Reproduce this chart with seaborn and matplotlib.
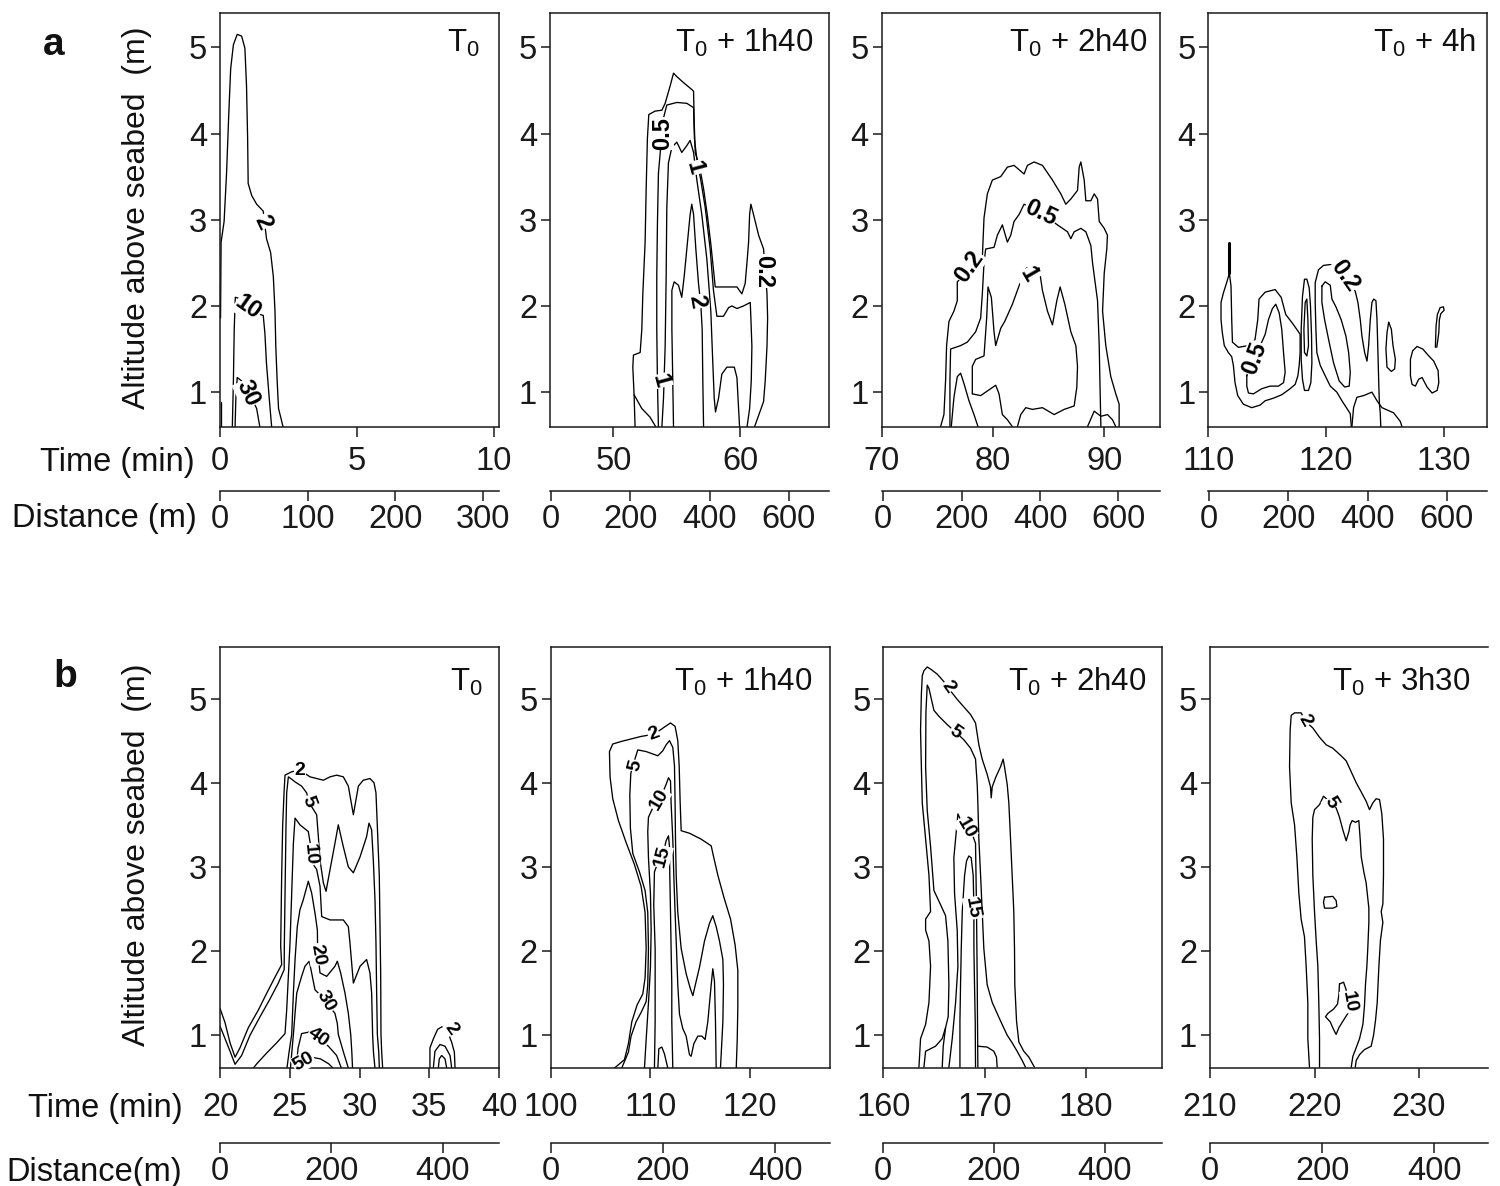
import matplotlib
matplotlib.use("Agg")
import matplotlib.pyplot as plt
import seaborn as sns
import pandas as pd

# ============ DATA: iso-concentration lines, (time [min], altitude [m]) ============
# ---- row a, panel 1 (T0) ----
A1_C2 = [(0.02,1.86),(0.04,2.74),(0.15,2.98),(0.24,3.54),(0.32,4.22),(0.39,4.75),(0.49,5.03),(0.63,5.15),
         (0.79,5.13),(0.91,4.99),(0.97,4.55),(1.01,3.94),(1.03,3.42),(1.16,3.28),(1.34,3.18),(1.58,3.10),
         (1.70,2.78),(1.85,2.62),(1.95,2.34),(2.01,1.94),(2.04,1.53),(2.09,1.13),(2.14,0.81),(2.25,0.67),(2.31,0.59)]
A1_EDGE = [(0.02,0.59),(0.02,0.89)]
A1_C10 = [(0.45,0.59),(0.49,1.13),(0.52,1.73),(0.56,2.10),(0.67,2.09),(0.97,2.0),(1.28,1.92),(1.58,1.89),
          (1.64,1.69),(1.70,1.33),(1.80,0.93),(1.89,0.59)]
A1_C30 = [(0.55,0.59),(0.58,0.93),(0.63,1.17),(0.79,1.13),(1.16,0.93),(1.34,0.81),(1.46,0.59)]
A1_LABELS = [("2",1.55,2.97,-65),("10",1.03,1.98,-35),("30",1.03,0.99,-65)]

# ---- row a, panel 2 (T0 + 1h40) ----
A2_C02 = [(51.71,0.59),(51.63,0.97),(51.53,1.29),(51.58,1.43),(52.11,1.46),(52.24,1.73),(52.32,2.14),(52.50,2.74),
          (52.58,3.34),(52.68,3.94),(52.79,4.22),(53.29,4.26),(53.82,4.27),(54.08,4.35),(54.47,4.55),(54.74,4.70),
          (55.00,4.66),(55.53,4.59),(56.18,4.51),(56.32,4.49),(56.37,4.14),(56.45,3.78),(56.79,3.62),(57.11,3.36),
          (57.42,3.04),(57.68,2.72),(57.89,2.42),(58.03,2.22),(59.21,2.22),(59.74,2.22),(60.13,2.14),(60.39,2.26),
          (60.53,2.50),(60.66,2.74),(60.74,3.06),(60.84,3.18),(61.05,3.06),(61.45,2.82),(61.84,2.66),(62.11,2.14),
          (62.16,1.86),(62.11,1.53),(61.97,1.13),(61.84,0.89),(61.45,0.73),(61.11,0.59)]
A2_E = [(51.63,0.97),(52.24,0.81),(52.89,0.71),(53.37,0.59)]
A2_C05 = [(53.55,0.59),(53.47,1.13),(53.42,1.73),(53.42,2.34),(53.47,2.94),(53.55,3.54),(53.74,3.86),(53.95,4.18),
          (54.21,4.33),(55.00,4.36),(55.79,4.35),(56.32,4.30),(56.39,3.94),(56.58,3.70),(56.89,3.46),(57.24,3.14),
          (57.63,2.66),(57.89,2.18),(58.16,1.88),(58.68,1.88),(59.08,1.98),(59.34,2.00),(59.74,1.97),(60.26,2.00),
          (60.79,2.04),(60.84,1.86),(60.92,1.53),(60.87,1.13),(60.74,0.81),(60.53,0.59)]
A2_C1 = [(53.82,0.59),(53.95,0.93),(54.08,1.53),(54.16,2.34),(54.21,3.14),(54.34,3.66),(54.61,3.84),(55.00,3.90),
         (55.39,3.78),(55.79,3.86),(56.05,3.92),(56.32,3.78),(56.58,3.46),(56.97,3.06),(57.37,2.54),(57.68,1.94),
         (57.84,1.33),(57.95,0.93),(58.05,0.77),(58.29,0.93),(58.55,1.21),(58.95,1.29),(59.53,1.29),(59.74,1.17),
         (59.87,0.81),(59.95,0.59)]
A2_C2 = [(54.74,0.59),(54.68,1.13),(54.61,1.73),(54.61,2.18),(54.79,2.28),(55.13,2.24),(55.39,2.10),(55.58,2.34),
         (55.84,2.74),(56.05,3.06),(56.18,3.18),(56.32,3.06),(56.50,2.66),(56.71,2.26),(56.89,2.02),(57.00,1.73),
         (57.05,1.13),(57.11,0.59)]
A2_LABELS = [("0.5",53.85,4.0,90),("1",56.4,3.6,-75),("2",56.6,2.05,-80),("1",53.7,1.13,-75),("0.2",61.84,2.40,-90)]

# ---- row a, panel 3 (T0 + 2h40) ----
A3_C02 = [(75.29,0.60),(75.59,0.74),(75.74,1.14),(75.83,1.54),(76.04,1.82),(76.49,1.94),(76.79,2.06),(76.79,2.28),
          (79.04,2.56),(79.19,3.02),(79.49,3.30),(79.94,3.46),(80.69,3.50),(81.29,3.61),(81.89,3.63),(82.79,3.53),
          (83.09,3.63),(83.69,3.67),(84.44,3.63),(85.34,3.46),(86.09,3.30),(86.54,3.18),(86.99,3.24),(87.59,3.34),
          (87.74,3.61),(87.89,3.67),(88.19,3.46),(88.34,3.22),(88.79,3.22),(89.09,3.30),(89.39,3.24),(89.54,2.98),
          (89.99,2.90),(90.28,2.82),(90.22,2.66),(89.99,2.38),(89.84,1.94),(90.13,1.54),(90.58,1.18),(91.03,0.98),
          (91.33,0.86),(91.33,0.60)]
A3_C05 = [(76.13,0.60),(76.13,1.14),(76.19,1.50),(77.09,1.54),(77.69,1.58),(78.44,1.70),(78.89,1.86),(79.04,2.14),
          (79.19,2.50),(79.34,2.66),(80.09,2.68),(80.39,2.82),(80.84,2.94),(81.29,2.74),(81.59,2.82),(81.89,2.98),
          (82.34,3.06),(82.79,3.18),(84.29,3.08),(85.79,2.94),(86.69,2.86),(86.99,2.78),(87.29,2.86),(87.89,2.90),
          (88.34,2.86),(88.79,2.70),(88.94,2.50),(89.39,2.06),(89.54,1.54),(89.60,1.14),(89.69,0.60)]
A3_BUMP = [(76.25,0.60),(76.49,0.94),(76.79,1.18),(77.09,1.22),(77.39,1.10),(77.84,0.90),(78.29,0.74),(78.65,0.60)]
A3_C1 = [(78.14,0.98),(78.14,1.30),(78.44,1.38),(79.19,1.42),(79.43,1.86),(79.55,2.22),(79.85,2.10),(80.09,1.70),
         (80.24,1.54),(80.69,1.74),(81.05,1.82),(81.74,2.02),(82.19,2.18),(82.64,2.34),(83.00,2.44),(84.14,2.44),
         (84.44,2.18),(84.89,1.94),(85.34,1.78),(85.73,2.06),(86.03,2.22),(86.45,2.02),(86.99,1.70),(87.44,1.54),
         (87.59,1.30),(87.53,1.06),(87.29,0.84),(86.39,0.80),(85.49,0.74),(84.44,0.82),(83.54,0.80),(82.94,0.82),
         (82.49,0.74),(82.19,0.60)]
A3_C1B = [(78.14,0.98),(78.89,0.96),(80.24,1.08),(80.54,0.98),(80.84,0.74),(81.29,0.68),(81.74,0.60)]
A3_BR = [(88.49,0.60),(89.09,0.78),(89.69,0.72),(90.28,0.74),(90.73,0.68),(91.03,0.60)]
A3_LABELS = [("0.2",77.84,2.46,55),("0.5",84.3,3.08,-25),("1",83.2,2.36,-60)]

# ---- row a, panel 4 (T0 + 4h) ----
A4_SPIKE = [(111.79,2.73),(111.79,2.38)]
A4_L1 = [(111.79,2.73),(111.79,2.38),(111.56,2.27),(111.28,2.15),(111.08,2.04),(111.08,1.84),(111.19,1.69),
         (111.36,1.54),(111.70,1.46),(111.99,1.41),(112.13,1.31),(112.27,1.11),(112.50,0.96),(112.98,0.86),
         (113.69,0.82),(114.40,0.85),(114.83,0.90),(115.53,0.93),(116.24,0.97),(116.95,1.04),(117.38,1.09),
         (117.61,1.19),(117.72,1.31),(117.80,1.46),(117.80,1.67),(117.61,1.71),(117.09,1.81),(116.58,1.90),
         (116.19,2.10),(115.68,2.19),(114.83,2.16),(114.31,2.08),(114.20,1.84),(113.97,1.61),(113.41,1.54),
         (112.56,1.52),(112.05,1.58),(111.99,1.84),(111.93,2.23),(111.79,2.38)]
A4_L2 = [(113.27,1.19),(113.55,1.34),(114.12,1.48),(114.54,1.58),(114.83,1.67),(115.11,1.84),(115.45,1.97),
         (115.73,2.02),(116.02,1.92),(116.24,1.73),(116.39,1.46),(116.53,1.23),(116.39,1.11),(115.96,1.07),
         (115.25,1.07),(114.54,1.04),(113.83,0.98),(113.41,0.99),(113.27,1.07),(113.27,1.19)]
A4_N1 = [(118.00,1.15),(117.89,1.38),(117.89,1.73),(118.00,2.11),(118.17,2.31),(118.37,2.31),(118.57,2.21),
         (118.68,2.00),(118.77,1.65),(118.80,1.34),(118.71,1.11),(118.51,1.02),(118.17,1.02),(118.00,1.15)]
A4_N2 = [(118.17,1.46),(118.12,1.73),(118.23,2.04),(118.37,2.08),(118.46,1.84),(118.51,1.54),(118.37,1.42),(118.17,1.46)]
A4_S1 = [(122.15,0.60),(122.06,0.75),(121.78,0.81),(121.35,0.90),(120.92,1.00),(120.36,1.07),(119.93,1.19),
         (119.51,1.31),(119.22,1.46),(119.14,1.73),(119.08,2.04),(119.08,2.27),(119.36,2.42),(119.79,2.47),
         (120.36,2.48),(120.64,2.46),(121.63,2.33),(122.48,2.17),(122.71,2.04),(122.91,1.84),(123.05,1.65),
         (123.28,1.46),(123.48,1.36),(123.62,1.54),(123.76,1.84),(123.90,2.04),(124.05,2.08),(124.24,2.06),
         (124.33,1.84),(124.41,1.46),(124.47,1.15),(124.53,0.88),(124.61,0.75),(124.65,0.60)]
A4_S2 = [(119.65,2.23),(119.93,2.28),(120.36,2.24),(120.50,2.08),(120.84,1.99),(121.29,1.84),(121.69,1.65),
         (121.92,1.46),(122.06,1.23),(121.97,1.07),(121.58,1.06),(121.12,1.13),(120.64,1.34),(120.22,1.61),
         (119.88,1.84),(119.65,2.04),(119.65,2.23)]
A4_R1 = [(125.32,1.81),(125.55,1.73),(125.69,1.54),(125.89,1.38),(125.83,1.27),(125.55,1.24),(125.18,1.29),
         (125.09,1.50),(125.18,1.69),(125.32,1.81)]
A4_R2 = [(127.17,1.19),(127.17,1.38),(127.36,1.48),(127.73,1.53),(128.22,1.50),(128.73,1.42),(129.15,1.36),
         (129.52,1.25),(129.58,1.11),(129.44,1.02),(129.01,0.99),(128.58,1.06),(128.16,1.17),(127.87,1.15),
         (127.59,1.07),(127.31,1.09),(127.17,1.19)]
A4_R3 = [(129.29,1.52),(129.35,1.77),(129.46,1.90),(129.69,1.98),(129.97,1.99),(130.03,1.95),(129.75,1.91),
         (129.63,1.84),(129.58,1.69),(129.41,1.52)]
A4_B1 = [(122.20,0.60),(122.34,0.82),(122.62,0.94),(123.19,0.96),(123.90,1.00),(124.33,0.90),(124.75,0.82),
         (125.74,0.76),(126.31,0.66),(126.45,0.60)]
A4_LABELS = [("0.5",113.92,1.39,70),("0.2",121.63,2.35,-55)]

# ---- row b, panel 1 (T0) ----
B1_C2 = [(20.0,1.32),(20.36,1.15),(20.72,0.91),(21.08,0.74),(21.43,0.85),(22.03,1.09),(22.75,1.30),(23.35,1.50),
         (23.94,1.69),(24.42,1.84),(24.35,2.06),(24.37,2.29),(24.42,2.89),(24.49,3.48),(24.59,3.88),(24.66,4.09),
         (25.14,4.13),(25.73,4.15),(26.45,4.07),(27.41,4.03),(27.89,4.07),(28.36,4.09),(28.84,4.07),(29.20,3.96),
         (29.56,3.62),(29.92,3.96),(30.27,4.03),(30.75,4.05),(31.04,4.00),(31.18,3.88),(31.28,3.48),(31.42,2.89),
         (31.47,2.29),(31.52,1.70),(31.54,1.01),(31.59,0.80),(31.66,0.61)]
B1_C5 = [(20.0,1.11),(20.72,0.81),(21.08,0.655),(21.55,0.76),(22.15,1.0),(22.87,1.22),(23.58,1.43),(24.18,1.62),
         (24.60,1.78),(24.61,2.05),(24.68,2.89),(24.73,3.48),(24.78,3.88),(24.90,4.07),(25.07,4.05),(25.38,4.01),
         (25.85,3.96),(26.21,3.88),(26.40,3.76),(26.93,3.62),(27.05,3.36),(27.17,3.08),(27.41,2.81),(27.60,2.71),
         (27.89,2.97),(28.24,3.28),(28.48,3.50),(28.84,3.24),(29.20,3.0),(29.56,2.93),(30.04,3.12),(30.51,3.36),
         (30.68,3.52),(30.87,3.44),(30.99,3.08),(31.11,2.61),(31.18,2.10),(31.23,1.50),(31.28,1.01),(31.38,0.80),
         (31.42,0.61)]
B1_C10 = [(22.39,0.61),(22.63,0.66),(23.35,0.79),(24.06,0.91),(24.66,1.02),(24.78,1.30),(24.90,1.70),(25.02,2.10),
          (25.14,2.69),(25.26,3.28),(25.38,3.58),(25.73,3.50),(26.33,3.42),(26.50,3.25),(26.60,3.05),(26.93,2.97),
          (27.17,2.77),(27.29,2.41),(27.89,2.37),(28.84,2.37),(29.20,2.29),(29.32,2.09),(29.56,1.62),(30.04,1.82),
          (30.51,1.90),(30.75,1.74),(30.87,1.50),(30.94,1.01),(31.00,0.80),(31.11,0.61)]
B1_C20 = [(24.8,0.61),(24.95,0.80),(25.14,1.01),(25.26,1.50),(25.38,1.90),(25.54,2.29),(25.73,2.49),(25.97,2.61),
          (26.33,2.83),(26.57,2.69),(26.81,2.45),(26.98,2.25),(27.0,2.0),(27.17,1.74),(27.65,1.70),(28.24,1.82),
          (28.41,1.88),(28.65,1.74),(28.96,1.50),(29.20,1.26),(29.37,1.01),(29.45,0.80),(29.5,0.61)]
B1_C30 = [(25.05,0.61),(25.15,0.80),(25.26,1.01),(25.38,1.26),(25.50,1.50),(25.85,1.70),(26.09,1.82),(26.40,1.88),
          (26.57,1.74),(26.81,1.54),(27.05,1.50),(27.60,1.40),(28.24,1.26),(28.41,1.14),(28.48,1.01),(28.85,0.80),
          (29.2,0.61)]
B1_C40 = [(25.45,0.61),(25.6,0.85),(25.85,1.02),(26.45,1.04),(27.05,0.97),(27.77,0.87),(28.36,0.76),(28.7,0.61)]
B1_C50 = [(25.7,0.61),(25.95,0.70),(26.5,0.74),(27.2,0.72),(27.8,0.66),(28.1,0.61)]
B1_P2A = [(35.05,0.61),(35.05,0.85),(35.3,0.96),(35.6,1.07),(35.9,1.10),(36.3,1.05),(36.6,0.92),(36.8,0.80),(36.85,0.61)]
B1_P2B = [(35.29,0.61),(35.41,0.81),(35.77,0.89),(36.13,0.87),(36.49,0.76),(36.61,0.61)]
B1_P2C = [(35.65,0.61),(35.72,0.72),(35.89,0.76),(36.13,0.72),(36.25,0.61)]
B1_LABELS = [("2",25.73,4.15,0),("5",26.35,3.78,-70),("10",26.5,3.15,-85),("20",26.98,1.96,-80),
             ("30",27.6,1.40,-60),("40",27.05,0.97,-35),("50",25.97,0.69,30),("2",36.55,1.08,-55)]

# ---- row b, panel 2 (T0 + 1h40) ----
B2_C2 = [(106.39,0.61),(107.39,0.71),(107.79,0.90),(108.13,1.16),(108.66,1.36),(109.23,1.49),(109.46,1.68),
         (109.57,2.03),(109.46,2.46),(109.06,2.77),(108.39,3.03),(107.56,3.29),(106.79,3.55),(106.22,3.81),
         (105.95,4.07),(105.89,4.37),(106.22,4.46),(107.06,4.49),(108.06,4.52),(109.06,4.55),(109.57,4.56),
         (110.23,4.58),(110.90,4.62),(111.57,4.675),(112.01,4.71),(112.47,4.67),(112.74,4.50),(112.88,4.20),
         (112.98,3.76),(113.08,3.43),(113.91,3.40),(115.08,3.33),(116.09,3.25),(116.35,3.11),(116.76,2.90),
         (117.36,2.64),(118.03,2.38),(118.49,2.07),(118.76,1.77),(118.76,1.34),(118.70,0.95),(118.60,0.61)]
B2_C5 = [(107.12,0.61),(107.79,0.80),(108.06,0.99),(108.56,1.16),(109.06,1.27),(109.57,1.40),(109.73,1.60),
         (109.80,2.03),(109.73,2.46),(109.46,2.72),(108.90,2.94),(108.23,3.16),(107.99,3.46),(107.93,3.85),
         (108.03,4.11),(108.23,4.20),(108.73,4.39),(109.57,4.37),(110.74,4.32),(111.24,4.38),(111.57,4.45),
         (111.91,4.50),(112.24,4.42),(112.41,4.20),(112.47,3.76),(112.51,3.33),(112.58,2.90),(112.74,2.46),
         (113.08,2.03),(113.58,1.73),(114.01,1.55),(114.25,1.47),(114.58,1.64),(114.92,1.81),(115.42,2.12),
         (115.92,2.33),(116.25,2.42),(116.59,2.29),(116.92,2.12),(117.26,1.90),(117.32,1.60),(117.26,1.16),(117.02,0.61)]
B2_C10 = [(109.40,0.61),(109.57,0.95),(109.80,1.38),(110.0,1.81),(110.07,2.25),(110.0,2.68),(109.80,3.11),
          (109.73,3.42),(109.80,3.59),(110.23,3.70),(110.90,3.79),(111.57,3.98),(111.81,4.06),(112.01,4.02),
          (112.07,3.76),(112.24,3.33),(112.34,2.90),(112.47,2.46),(112.61,2.03),(112.74,1.60),(112.91,1.25),
          (113.24,1.08),(113.58,0.99),(113.91,0.77),(114.08,0.75),(114.35,0.90),(114.75,0.99),(115.15,0.99),
          (115.48,0.95),(115.75,1.16),(116.09,1.60),(116.25,1.79),(116.42,1.64),(116.52,1.16),(116.59,0.61)]
B2_C15 = [(110.40,0.61),(110.47,1.16),(110.47,2.03),(110.33,2.55),(110.40,2.94),(110.74,3.05),(111.24,3.14),
          (111.57,3.31),(111.81,3.37),(111.91,3.24),(111.94,2.90),(112.01,2.46),(112.07,2.03),(112.14,1.60),
          (112.14,1.16),(112.24,0.61)]
B2_BUMP = [(110.74,0.61),(110.84,0.84),(111.14,0.86),(111.40,0.78),(111.74,0.61)]
B2_LABELS = [("2",110.3,4.58,20),("5",108.5,4.2,75),("10",110.85,3.8,60),("15",111.2,3.12,75)]

# ---- row b, panel 3 (T0 + 2h40) ----
B3_C2 = [(163.52,0.62),(163.68,0.96),(164.18,1.13),(164.51,1.39),(164.67,1.82),(164.51,2.12),(164.18,2.25),
         (164.18,2.38),(164.67,2.47),(164.51,2.90),(164.18,3.33),(163.85,3.76),(163.76,4.19),(163.68,4.62),
         (163.76,5.05),(163.85,5.27),(164.01,5.33),(164.34,5.375),(164.67,5.35),(165.33,5.29),(165.99,5.20),
         (166.32,5.14),(167.30,4.99),(167.96,4.90),(168.62,4.81),(169.11,4.71),(169.44,4.45),(169.77,4.28),
         (170.26,4.10),(170.59,3.95),(170.66,3.82),(170.76,3.95),(171.09,4.06),(171.58,4.19),(171.84,4.28),
         (171.97,4.19),(172.24,3.98),(172.40,3.76),(172.57,3.33),(172.73,2.90),(172.89,2.47),(172.96,2.03),
         (172.99,1.60),(173.16,1.17),(173.39,0.92),(173.88,0.81),(174.38,0.74),(174.93,0.62)]
B3_C5 = [(165.82,0.62),(165.92,0.87),(166.15,1.09),(166.41,1.22),(166.48,1.60),(166.38,2.12),(166.15,2.42),
         (165.66,2.55),(165.0,2.72),(164.67,3.24),(164.34,3.67),(164.18,4.19),(164.21,4.84),(164.34,5.16),
         (164.51,5.12),(165.0,4.86),(165.49,4.79),(166.32,4.69),(167.14,4.60),(167.96,4.51),(168.62,4.41),
         (169.11,4.28),(169.28,3.97),(169.34,3.76),(169.44,3.33),(169.61,2.90),(169.77,2.47),(169.93,2.03),
         (170.26,1.60),(170.76,1.39),(171.58,1.17),(172.24,1.0),(172.73,0.91),(173.22,0.81),(173.72,0.70),(174.05,0.62)]
B3_E = [(164.01,0.62),(164.18,0.81),(165.16,0.87),(165.82,0.96),(166.15,1.09)]
B3_C10 = [(166.48,0.62),(166.81,0.96),(167.14,1.39),(167.37,1.82),(167.30,2.25),(167.04,2.68),(166.97,3.11),
          (167.24,3.46),(167.37,3.63),(167.63,3.56),(168.13,3.44),(168.78,3.39),(169.11,3.28),(169.21,2.47),
          (169.28,1.60),(169.34,0.62)]
B3_C15 = [(167.57,0.62),(167.57,1.17),(167.63,1.60),(167.70,2.03),(167.80,2.47),(168.03,2.90),(168.22,3.07),
          (168.45,3.13),(168.68,3.11),(168.88,2.90),(168.95,2.51),(168.95,2.03),(169.01,1.60),(169.08,1.17),(169.11,0.62)]
B3_BUMP = [(169.34,0.87),(170.26,0.86),(170.92,0.81),(171.18,0.74),(171.25,0.62)]
B3_LABELS = [("2",166.38,5.14,-55),("5",167.14,4.60,-35),("10",168.13,3.46,-60),("15",168.8,2.51,-80)]

# ---- row b, panel 4 (T0 + 3h30) ----
B4_C2 = [(219.52,0.62),(219.36,0.96),(219.36,1.39),(219.20,1.82),(219.04,2.17),(218.72,2.38),(218.50,2.69),
         (218.31,3.12),(218.09,3.50),(217.77,3.76),(217.61,4.19),(217.67,4.63),(217.77,4.80),(218.09,4.83),
         (218.72,4.83),(219.14,4.73),(219.84,4.65),(220.48,4.54),(221.12,4.45),(221.75,4.41),(222.55,4.32),
         (223.03,4.26),(223.51,4.13),(223.99,4.0),(224.47,3.89),(224.94,3.78),(225.26,3.68),(225.58,3.76),
         (225.90,3.81),(226.22,3.80),(226.44,3.63),(226.60,3.33),(226.60,2.90),(226.54,2.56),(226.38,2.47),
         (226.54,2.34),(226.31,2.13),(226.16,1.82),(226.0,1.39),(225.84,1.18),(225.65,1.0),(225.42,0.87),
         (224.78,0.83),(224.31,0.77),(223.99,0.70),(223.90,0.62)]
B4_C5 = [(220.48,0.62),(220.48,0.96),(220.41,1.39),(220.32,1.82),(220.16,2.12),(220.0,2.47),(219.84,2.90),
         (219.78,3.33),(219.84,3.59),(220.0,3.68),(220.48,3.74),(220.86,3.84),(221.60,3.76),(222.07,3.70),
         (222.39,3.59),(222.71,3.44),(223.03,3.31),(223.29,3.42),(223.41,3.50),(223.60,3.55),(223.92,3.53),
         (224.24,3.55),(224.37,3.33),(224.47,3.12),(224.72,2.94),(224.94,2.81),(225.20,2.51),(225.20,2.34),
         (225.10,2.04),(225.01,1.82),(224.88,1.61),(224.78,1.35),(224.63,1.13),(224.31,0.96),(223.92,0.83),
         (223.67,0.75),(223.51,0.62)]
B4_C10 = [(222.39,1.61),(222.78,1.63),(223.03,1.54),(223.19,1.39),(223.19,1.26),(222.78,1.18),(222.33,1.09),
          (222.07,1.01),(221.82,1.07),(221.50,1.16),(221.05,1.22),(221.28,1.26),(221.82,1.31),(222.20,1.37),
          (222.33,1.48),(222.39,1.61)]
B4_D = [(220.96,2.64),(221.75,2.65),(222.07,2.60),(222.14,2.53),(221.75,2.51),(220.96,2.51),(220.86,2.58),(220.96,2.64)]
B4_LABELS = [("2",219.1,4.74,-60),("5",221.6,3.76,-60),("10",223.35,1.40,-80)]

# ---- axes annotations ----
TITLES_A = [r"T$_0$", r"T$_0$ + 1h40", r"T$_0$ + 2h40", r"T$_0$ + 4h"]
TITLES_B = [r"T$_0$", r"T$_0$ + 1h40", r"T$_0$ + 2h40", r"T$_0$ + 3h30"]
TIME_TICKS_A = [[0, 5, 10], [50, 60], [70, 80, 90], [110, 120, 130]]
TIME_TICKS_B = [[20, 25, 30, 35, 40], [100, 110, 120], [160, 170, 180], [210, 220, 230]]
TIME_LIM_A = [(0, 10.2), (45, 67), (70, 95), (110, 133.7)]
TIME_LIM_B = [(20, 40), (100, 128), (160, 187.5), (210, 236.6)]
DIST_TICKS_A = [[0, 100, 200, 300], [0, 200, 400, 600], [0, 200, 400, 600], [0, 200, 400, 600]]
DIST_TICKS_B = [[0, 200, 400]] * 4
DIST_LIM_A = [(0, 318), (-2, 701), (-4, 706), (-2, 702)]
DIST_LIM_B = [(0, 501), (0, 498), (3, 503), (0, 496)]
ALT_TICKS = [1, 2, 3, 4, 5]

PANELS_A = [
    ([A1_C2, A1_EDGE, A1_C10, A1_C30], A1_LABELS),
    ([A2_C02, A2_E, A2_C05, A2_C1, A2_C2], A2_LABELS),
    ([A3_C02, A3_C05, A3_BUMP, A3_C1, A3_C1B, A3_BR], A3_LABELS),
    ([A4_L1, A4_L2, A4_N1, A4_N2, A4_S1, A4_S2, A4_R1, A4_R2, A4_R3, A4_B1], A4_LABELS),
]
PANELS_B = [
    ([B1_C2, B1_C5, B1_C10, B1_C20, B1_C30, B1_C40, B1_C50, B1_P2A, B1_P2B, B1_P2C], B1_LABELS),
    ([B2_C2, B2_C5, B2_C10, B2_C15, B2_BUMP], B2_LABELS),
    ([B3_C2, B3_C5, B3_E, B3_C10, B3_C15, B3_BUMP], B3_LABELS),
    ([B4_C2, B4_C5, B4_C10, B4_D], B4_LABELS),
]

# ============ STYLE ============
sns.set_theme(style="ticks")
plt.rcParams["font.family"] = ["Liberation Sans", "DejaVu Sans"]
plt.rcParams.update({
    "mathtext.fontset": "custom",
    "mathtext.rm": "Liberation Sans",
    "mathtext.it": "Liberation Sans:italic",
    "mathtext.bf": "Liberation Sans:bold",
    "mathtext.sf": "Liberation Sans",
    "axes.edgecolor": "#1a1a1a",
    "axes.linewidth": 1.1,
    "xtick.color": "#1a1a1a",
    "ytick.color": "#1a1a1a",
    "text.color": "#111111",
})

W, H = 1500, 1186
fig = plt.figure(figsize=(W / 100, H / 100), dpi=100)
fig.patch.set_facecolor("white")

FS = 23.5
LW = 0.95


def frac_rect(l, t, r, b):
    return [l / W, 1 - b / H, (r - l) / W, (b - t) / H]


def draw_panel(ax, lines, labels, title, tx, ty, xlim, ylim, xticks, xpad, lab_fs):
    frames = []
    for i, ln in enumerate(lines):
        d = pd.DataFrame(ln, columns=["time", "alt"])
        d["seg"] = i
        frames.append(d)
    df = pd.concat(frames, ignore_index=True)
    sns.lineplot(data=df, x="time", y="alt", units="seg", estimator=None, sort=False,
                 color="black", linewidth=LW, legend=False, ax=ax)
    for s, x, y, r in labels:
        ax.text(x, y, s, rotation=r, ha="center", va="center", rotation_mode="anchor",
                fontsize=lab_fs, fontweight="bold", color="black", zorder=6,
                bbox=dict(boxstyle="square,pad=0.02", fc="white", ec="none"))
    ax.set_xlim(*xlim)
    ax.set_ylim(*ylim)
    ax.set_xticks(xticks)
    ax.set_yticks(ALT_TICKS)
    ax.set_xlabel("")
    ax.set_ylabel("")
    ax.tick_params(axis="x", direction="out", length=7.5, width=1.1, labelsize=FS, pad=xpad)
    ax.tick_params(axis="y", direction="out", length=6.7, width=1.1, labelsize=FS, pad=2.5)
    ax.text(tx, ty, title, transform=ax.transAxes, ha="right", va="baseline", fontsize=22.5)
    for sp in ax.spines.values():
        sp.set_visible(True)
        sp.set_color("#1a1a1a")
        sp.set_linewidth(1.1)
    ax.set_facecolor("white")


def draw_distance(l, r, y, xlim, ticks):
    dax = fig.add_axes([l / W, 1 - y / H, (r - l) / W, 0.0001])
    dax.set_facecolor("none")
    for k in ("left", "right", "top"):
        dax.spines[k].set_visible(False)
    dax.spines["bottom"].set_color("#1a1a1a")
    dax.spines["bottom"].set_linewidth(1.1)
    dax.set_yticks([])
    dax.set_xlim(*xlim)
    dax.set_xticks(ticks)
    dax.tick_params(axis="x", direction="out", length=7.5, width=1.1, labelsize=FS, pad=2.0)
    return dax


COLS_A = [(220, 499), (550, 829), (881.7, 1160), (1208.3, 1487.3)]
COLS_B = [(220, 499), (550.7, 830), (883.3, 1161.7), (1210, 1488)]
TX_A = [0.932, 0.943, 0.953, 0.957]
TX_B = [0.943, 0.935, 0.944, 0.935]

# row a
for i, ((l, r), (lines, labels)) in enumerate(zip(COLS_A, PANELS_A)):
    ax = fig.add_axes(frac_rect(l, 12.8, r, 427.5))
    draw_panel(ax, lines, labels, TITLES_A[i], TX_A[i], 0.905, TIME_LIM_A[i], (0.59, 5.40),
               TIME_TICKS_A[i], 6.0, 17)
    if i == 3:
        sd = pd.DataFrame(A4_SPIKE, columns=["time", "alt"])
        sns.lineplot(data=sd, x="time", y="alt", sort=False, estimator=None, color="black",
                     linewidth=2.2, legend=False, ax=ax)
        ax.set_xlabel("")
        ax.set_ylabel("")
    draw_distance(l, r, 490.8, DIST_LIM_A[i], DIST_TICKS_A[i])

# row b
for i, ((l, r), (lines, labels)) in enumerate(zip(COLS_B, PANELS_B)):
    ax = fig.add_axes(frac_rect(l, 647.2, r, 1068.1))
    draw_panel(ax, lines, labels, TITLES_B[i], TX_B[i], 0.896, TIME_LIM_B[i], (0.61, 5.61),
               TIME_TICKS_B[i], 9.5, 14)
    if i == 3:
        ax.spines["right"].set_visible(False)
    draw_distance(l, r, 1142.5, DIST_LIM_B[i], DIST_TICKS_B[i])

# figure-level texts
fig.text(137 / W, 1 - 218 / H, "Altitude above seabed  (m)", rotation=90, ha="center", va="center", fontsize=23)
fig.text(137 / W, 1 - 855 / H, "Altitude above seabed  (m)", rotation=90, ha="center", va="center", fontsize=23)
fig.text(195 / W, 1 - 470.5 / H, "Time (min)", ha="right", va="baseline", fontsize=FS)
fig.text(197 / W, 1 - 527.5 / H, "Distance (m)", ha="right", va="baseline", fontsize=FS)
fig.text(183 / W, 1 - 1117 / H, "Time (min)", ha="right", va="baseline", fontsize=FS)
fig.text(182 / W, 1 - 1180.6 / H, "Distance(m)", ha="right", va="baseline", fontsize=FS)
fig.text(54 / W, 1 - 55.4 / H, "a", ha="center", va="baseline", fontsize=28, fontweight="bold")
fig.text(65 / W, 1 - 687 / H, "b", ha="center", va="baseline", fontsize=28, fontweight="bold")

fig.savefig("out.png", dpi=100, facecolor="white")
